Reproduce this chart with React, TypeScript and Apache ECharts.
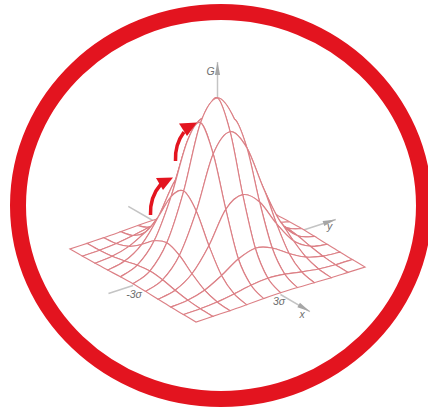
import React, { useEffect, useRef } from "react";
import * as echarts from "echarts";

// Height of the surface (0-100) at grid crossings, step 0.6 sigma, x from -3 sigma to 3 sigma by row, y by column.
const surfaceRows: number[][] = [
  [0, 0.1, 0.2, 0.5, 0.9, 1.1, 0.9, 0.5, 0.2, 0.1, 0],
  [0.1, 0.3, 1.1, 2.7, 4.7, 5.6, 4.7, 2.7, 1.1, 0.3, 0.1],
  [0.2, 1.1, 3.9, 9.6, 16.5, 19.8, 16.5, 9.6, 3.9, 1.1, 0.2],
  [0.5, 2.7, 9.6, 23.7, 43, 48.7, 40.7, 23.7, 9.6, 2.7, 0.5],
  [0.9, 4.7, 16.5, 40.7, 73, 83.5, 69.8, 40.7, 16.5, 4.7, 0.9],
  [1.1, 5.6, 19.8, 48.7, 88, 100, 83.5, 48.7, 19.8, 5.6, 1.1],
  [0.9, 4.7, 16.5, 40.7, 73, 83.5, 69.8, 40.7, 16.5, 4.7, 0.9],
  [0.5, 2.7, 9.6, 23.7, 43, 48.7, 40.7, 23.7, 9.6, 2.7, 0.5],
  [0.2, 1.1, 3.9, 9.6, 16.5, 19.8, 16.5, 9.6, 3.9, 1.1, 0.2],
  [0.1, 0.3, 1.1, 2.7, 4.7, 5.6, 4.7, 2.7, 1.1, 0.3, 0.1],
  [0, 0.1, 0.2, 0.5, 0.9, 1.1, 0.9, 0.5, 0.2, 0.1, 0],
];
const gridStep = 0.6;

// Axis stubs: from [x, y, G] to [x, y, G], in sigma and height units.
const axisStubs = [
  { from: [3, 0, 0], to: [4.4, 0, 0], arrow: true },
  { from: [0, 3, 0], to: [0, 4.2, 0], arrow: true },
  { from: [0, -3, 0], to: [0, -3.87, 0], arrow: false },
  { from: [-3, 0, 0], to: [-4.25, 0, 0], arrow: false },
  { from: [0, 0, 100], to: [0, 0, 122.5], arrow: true },
];

const labelTexts = ["G", "y", "x", "-3σ", "3σ"];

const ORIGIN = [217.5, 258];
const EX = [21, 12.17];
const EY = [28.17, -9.17];
const EZ = 1.6;

function project(x: number, y: number, g: number): number[] {
  return [
    ORIGIN[0] + EX[0] * x + EY[0] * y,
    ORIGIN[1] + EX[1] * x + EY[1] * y - EZ * g,
  ];
}

export default function App() {
  const ref = useRef<HTMLDivElement>(null);
  useEffect(() => {
    const chart = echarts.init(ref.current!, null, { renderer: "svg" });
    const n = surfaceRows.length;
    const mid = (n - 1) / 2;

    // back-to-front order, so nearer cells hide those behind
    const cells: number[][] = [];
    for (let i = 0; i < n - 1; i++) {
      for (let j = n - 2; j >= 0; j--) cells.push([i, j]);
    }

    const renderCell = (_p: any, api: any) => {
      const i = api.value(0);
      const j = api.value(1);
      const pt = (a: number, b: number) => {
        const ca = Math.max(0, Math.min(n - 1, a));
        const cb = Math.max(0, Math.min(n - 1, b));
        const p = project((ca - mid) * gridStep, (cb - mid) * gridStep, surfaceRows[ca][cb]);
        return api.coord(p);
      };
      const curve = (p0: number[], p1: number[], p2: number[], p3: number[]) => {
        const c1 = [p1[0] + (p2[0] - p0[0]) / 6, p1[1] + (p2[1] - p0[1]) / 6];
        const c2 = [p2[0] - (p3[0] - p1[0]) / 6, p2[1] - (p3[1] - p1[1]) / 6];
        return `C${c1[0].toFixed(2)} ${c1[1].toFixed(2)} ${c2[0].toFixed(2)} ${c2[1].toFixed(2)} ${p2[0].toFixed(2)} ${p2[1].toFixed(2)}`;
      };
      const s = pt(i, j);
      const d = [
        `M${s[0].toFixed(2)} ${s[1].toFixed(2)}`,
        curve(pt(i - 1, j), pt(i, j), pt(i + 1, j), pt(i + 2, j)),
        curve(pt(i + 1, j - 1), pt(i + 1, j), pt(i + 1, j + 1), pt(i + 1, j + 2)),
        curve(pt(i + 2, j + 1), pt(i + 1, j + 1), pt(i, j + 1), pt(i - 1, j + 1)),
        curve(pt(i, j + 2), pt(i, j + 1), pt(i, j), pt(i, j - 1)),
        "Z",
      ].join(" ");
      return {
        type: "path",
        shape: { pathData: d },
        style: { fill: "#ffffff", stroke: "#dc8086", lineWidth: 1.15 },
      };
    };

    const renderAxis = (_p: any, api: any) => {
      const stub = axisStubs[api.value(0)];
      const a = api.coord(project(stub.from[0], stub.from[1], stub.from[2]));
      const b = api.coord(project(stub.to[0], stub.to[1], stub.to[2]));
      const children: any[] = [
        {
          type: "line",
          shape: { x1: a[0], y1: a[1], x2: b[0], y2: b[1] },
          style: { stroke: "#c4c4c4", lineWidth: 1.5 },
        },
      ];
      if (stub.arrow) {
        const dx = b[0] - a[0];
        const dy = b[1] - a[1];
        const len = Math.hypot(dx, dy);
        const ux = dx / len;
        const uy = dy / len;
        const headLen = 13;
        const headW = 2.6;
        const bx = b[0] - ux * headLen;
        const by = b[1] - uy * headLen;
        children.push({
          type: "polygon",
          shape: {
            points: [
              [b[0], b[1]],
              [bx - uy * headW, by + ux * headW],
              [bx + uy * headW, by - ux * headW],
            ],
          },
          style: { fill: "#a6a6a6" },
        });
      }
      return { type: "group", children };
    };

    const red = "#e3141f";
    const labelStyle = (text: string, x: number, y: number) => ({
      type: "text",
      x,
      y,
      z: 20,
      style: {
        text,
        fill: "#6e6e6e",
        font: "italic 10.5px 'Liberation Sans'",
        align: "center",
        verticalAlign: "middle",
      },
    });

    chart.setOption({
      animation: false,
      grid: { left: 0, right: 0, top: 0, bottom: 0 },
      xAxis: { type: "value", min: 0, max: 428, show: false },
      yAxis: { type: "value", min: 0, max: 410, inverse: true, show: false },
      series: [
        {
          type: "custom",
          silent: true,
          z: 1,
          data: axisStubs.map((_, k) => [k]),
          encode: { x: -1, y: -1 },
          renderItem: renderAxis,
        },
        {
          type: "custom",
          silent: true,
          z: 2,
          data: cells,
          encode: { x: -1, y: -1 },
          renderItem: renderCell,
        },
      ],
      graphic: [
        {
          type: "ellipse",
          z: 20,
          shape: { cx: 221, cy: 205.5, rx: 203, ry: 193.5 },
          style: { fill: "none", stroke: red, lineWidth: 16 },
        },
        {
          type: "bezierCurve",
          z: 20,
          shape: { x1: 150.5, y1: 215, cpx1: 150, cpy1: 203, cpx2: 154, cpy2: 192, x2: 161, y2: 184 },
          style: { fill: "none", stroke: red, lineWidth: 3.5 },
        },
        {
          type: "polygon",
          z: 20,
          shape: { points: [[156, 178], [173, 177.5], [163, 190]] },
          style: { fill: red },
        },
        {
          type: "bezierCurve",
          z: 20,
          shape: { x1: 175.5, y1: 161, cpx1: 175, cpy1: 150, cpx2: 178, cpy2: 140, x2: 184, y2: 132 },
          style: { fill: "none", stroke: red, lineWidth: 3.5 },
        },
        {
          type: "polygon",
          z: 20,
          shape: { points: [[179, 123.5], [197, 122.5], [187, 136]] },
          style: { fill: red },
        },
        labelStyle(labelTexts[0], 210.5, 71),
        labelStyle(labelTexts[1], 329.5, 226),
        labelStyle(labelTexts[2], 302, 314),
        labelStyle(labelTexts[3], 134, 293.5),
        labelStyle(labelTexts[4], 279, 301),
      ],
    });
    return () => chart.dispose();
  }, []);
  return (
    <div
      ref={ref}
      style={{ position: "absolute", left: 0, top: 0, width: 428, height: 410 }}
    />
  );
}
